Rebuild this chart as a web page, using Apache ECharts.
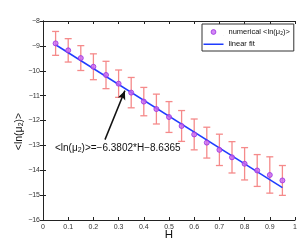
<!DOCTYPE html>
<html><head><meta charset="utf-8">
<script src="https://cdn.jsdelivr.net/npm/echarts@6/dist/echarts.min.js"></script>
<style>html,body{margin:0;padding:0;background:#fff}#c{width:300px;height:242px}</style>
</head><body><div id="c"></div>
<script>
const H = [0.05,0.10,0.15,0.20,0.25,0.30,0.35,0.40,0.45,0.50,0.55,0.60,0.65,0.70,0.75,0.80,0.85,0.90,0.95];
const lnMu = [-8.90,-9.18,-9.49,-9.84,-10.17,-10.52,-10.88,-11.24,-11.54,-11.86,-12.22,-12.56,-12.89,-13.18,-13.48,-13.74,-14.01,-14.19,-14.41];
const errHalf = [0.48,0.47,0.50,0.52,0.55,0.55,0.61,0.57,0.60,0.62,0.62,0.62,0.62,0.63,0.63,0.65,0.64,0.73,0.60];
const fitH = [0.05, 0.95];
const fitY = [-8.955, -14.697];
const arrowFrom = [0.246, -12.77];
const arrowTo = [0.325, -10.80];
const xTicks = [0,0.1,0.2,0.3,0.4,0.5,0.6,0.7,0.8,0.9,1];
const yTicks = [-16,-15,-14,-13,-12,-11,-10,-9,-8];

const font = 'Liberation Sans, Arial, sans-serif';
const chart = echarts.init(document.getElementById('c'), null, {renderer:'canvas'});
const fmtNum = v => String(v).replace('-', '\u2212');
const axBase = {
  axisLine:{show:true, lineStyle:{color:'#222', width:1}},
  axisTick:{show:true, inside:true, length:3, lineStyle:{color:'#222'}},
  splitLine:{show:false}
};
chart.setOption({
  animation:false,
  textStyle:{fontFamily:font},
  grid:{left:43, right:5, top:21, bottom:22, containLabel:false, outerBoundsMode:'none'},
  xAxis:[
    Object.assign({}, axBase, {type:'value', min:xTicks[0], max:xTicks[xTicks.length-1], interval:0.1,
      name:'H', nameLocation:'middle', nameGap:9, nameMoveOverlap:false, nameTextStyle:{fontSize:11.5, color:'#111', fontFamily:font},
      axisLabel:{fontSize:7, color:'#333', margin:4, fontFamily:font, formatter:v=>fmtNum(v)}}),
    Object.assign({}, axBase, {type:'value', position:'top', min:0, max:1, interval:0.1, axisLabel:{show:false}})
  ],
  yAxis:[
    Object.assign({}, axBase, {type:'value', min:yTicks[0], max:yTicks[yTicks.length-1], interval:1,
      name:'{a|<ln(μ}{s|2}{a|)>}', nameLocation:'middle', nameGap:18, nameMoveOverlap:false, nameRotate:90,
      nameTextStyle:{color:'#111', fontFamily:font, padding:[0,22,0,0], rich:{a:{fontSize:10.5, color:'#111', fontFamily:font}, s:{fontSize:7, color:'#111', verticalAlign:'bottom', padding:[5,0,0,0], fontFamily:font}}},
      axisLabel:{fontSize:7, color:'#333', margin:3, fontFamily:font, formatter:v=>fmtNum(v)}}),
    Object.assign({}, axBase, {type:'value', position:'right', min:-16, max:-8, interval:1, axisLabel:{show:false}})
  ],
  legend:{
    orient:'vertical', left:202, top:24, width:91,
    padding:[4,4,3,1], itemGap:4,
    borderColor:'#333', borderWidth:1, backgroundColor:'#fff',
    itemWidth:20, itemHeight:7,
    textStyle:{fontSize:7, color:'#111', fontFamily:font, rich:{a:{fontSize:7.5,color:'#111',fontFamily:font}, s:{fontSize:5,color:'#111',verticalAlign:'bottom',padding:[3,0,0,0],fontFamily:font}}},
    formatter: n => n === 'numerical' ? '{a|numerical <ln(μ}{s|2}{a|)>}' : '{a|linear fit}',
    data:[
      {name:'numerical', icon:'path://M0,0 L0.01,0 L0.01,0.01 Z M20,7 L19.99,7 L19.99,6.99 Z M7.6,3.5 A2.4,2.4 0 1 1 12.4,3.5 A2.4,2.4 0 1 1 7.6,3.5 Z', itemStyle:{color:'#c96af2', borderColor:'#9a2fe0', borderWidth:1}},
      {name:'linear fit', icon:'path://M0,0 L0.01,0 L0.01,0.01 Z M20,7 L19.99,7 L19.99,6.99 Z M0,3 L20,3 L20,4.4 L0,4.4 Z', itemStyle:{color:'#1f3cff'}}
    ]
  },
  series:[
    {
      name:'errors', type:'custom', xAxisIndex:0, yAxisIndex:0,
      data:H.map((h,i)=>[h, lnMu[i]-errHalf[i], lnMu[i]+errHalf[i]]),
      renderItem:(params, api)=>{
        const lo = api.coord([api.value(0), api.value(1)]);
        const hi = api.coord([api.value(0), api.value(2)]);
        const w = 3.5;
        const st = {stroke:'#f58a8a', lineWidth:1.3};
        return {type:'group', children:[
          {type:'line', shape:{x1:lo[0],y1:lo[1],x2:hi[0],y2:hi[1]}, style:st},
          {type:'line', shape:{x1:lo[0]-w,y1:lo[1],x2:lo[0]+w,y2:lo[1]}, style:st},
          {type:'line', shape:{x1:hi[0]-w,y1:hi[1],x2:hi[0]+w,y2:hi[1]}, style:st}
        ]};
      },
      z:2
    },
    {
      name:'linear fit', type:'line', xAxisIndex:0, yAxisIndex:0,
      data:fitH.map((h,i)=>[h, fitY[i]]), symbol:'none', showSymbol:false,
      lineStyle:{color:'#1f3cff', width:1.5}, itemStyle:{color:'#1f3cff'}, z:3,
      markLine:{
        silent:true, symbol:['none','arrow'], symbolSize:[6,9],
        lineStyle:{color:'#111', width:1.5, type:'solid'},
        label:{show:false},
        data:[[{coord:arrowFrom}, {coord:arrowTo}]]
      }
    },
    {
      name:'numerical', type:'scatter', xAxisIndex:0, yAxisIndex:0,
      data:H.map((h,i)=>[h, lnMu[i]]), symbol:'circle', symbolSize:5,
      itemStyle:{color:'#c96af2', borderColor:'#9a2fe0', borderWidth:1}, z:4
    }
  ],
  graphic:[
    {type:'text', left:55, top:143, z:10,
     style:{text:'{a|<ln(μ}{s|2}{a|)>=−6.3802*H−8.6365}', fill:'#111', font:'10px '+font,
       rich:{a:{fontSize:10, fill:'#111', fontFamily:font}, s:{fontSize:7, fill:'#111', verticalAlign:'bottom', fontFamily:font, padding:[5,0,0,0]}}}}
  ]
});
</script></body></html>
